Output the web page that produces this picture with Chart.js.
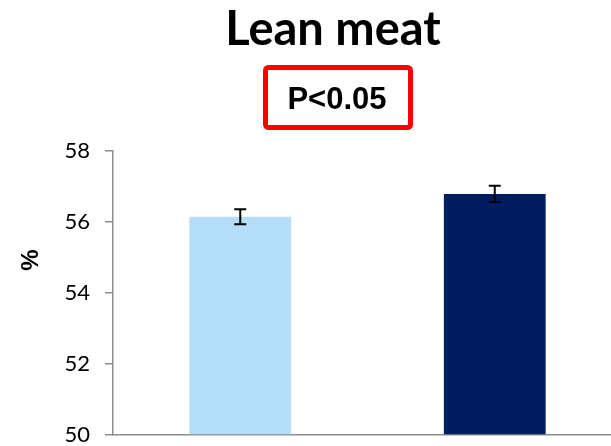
<!DOCTYPE html>
<html>
<head>
<meta charset="utf-8">
<script src="https://cdn.jsdelivr.net/npm/chart.js@4.4.1/dist/chart.umd.min.js"></script>
<style>
html,body{margin:0;padding:0;background:#fff;overflow:hidden;}
#wrap{position:relative;width:622px;height:446px;}
</style>
</head>
<body>
<div id="wrap"><canvas id="c"></canvas></div>
<script>
const categories = ["Control", "Treatment"];
const values = [56.15, 56.79];
const errors = [0.21, 0.23];
const barColors = ["#B3DEFA", "#001E5F"];
const yTicks = [50, 52, 54, 56, 58];
const titleText = "Lean meat";
const pText = "P<0.05";
const yLabel = "%";

const overlay = {
  id: 'overlay',
  afterDatasetsDraw(chart) {
    const ctx = chart.ctx;
    const x = chart.scales.x, y = chart.scales.y;
    ctx.save();
    ctx.strokeStyle = '#000';
    ctx.lineWidth = 2;
    values.forEach((v, i) => {
      const px = x.getPixelForValue(i);
      const top = y.getPixelForValue(v + errors[i]);
      const bot = y.getPixelForValue(v - errors[i]);
      ctx.beginPath();
      ctx.moveTo(px, top); ctx.lineTo(px, bot);
      ctx.moveTo(px - 6, top); ctx.lineTo(px + 6, top);
      ctx.moveTo(px - 6, bot); ctx.lineTo(px + 6, bot);
      ctx.stroke();
    });
    ctx.fillStyle = '#000';
    ctx.textAlign = 'center';
    ctx.textBaseline = 'alphabetic';
    ctx.font = 'bold 47px Lato';
    ctx.fillText(titleText, 333, 45);
    ctx.strokeStyle = '#FF0000';
    ctx.lineWidth = 5;
    ctx.beginPath();
    ctx.roundRect(265.5, 67.5, 145, 60, 3);
    ctx.stroke();
    ctx.font = 'bold 31px "Liberation Sans"';
    ctx.fillText(pText, 337, 109);
    ctx.translate(38, 260);
    ctx.rotate(-Math.PI / 2);
    ctx.font = 'bold 24px "Liberation Sans"';
    ctx.fillText(yLabel, 0, 0);
    ctx.restore();
  }
};

new Chart(document.getElementById('c'), {
  type: 'bar',
  data: {
    labels: categories,
    datasets: [{
      data: values,
      backgroundColor: barColors,
      borderWidth: 0,
      categoryPercentage: 1,
      barPercentage: 0.4,
      base: 50
    }]
  },
  options: {
    responsive: true,
    maintainAspectRatio: false,
    animation: false,
    layout: { padding: { top: 151, right: 0, left: 0, bottom: 0 } },
    plugins: { legend: { display: false }, tooltip: { enabled: false }, title: { display: false } },
    scales: {
      x: {
        grid: { display: false, drawTicks: false },
        border: { display: true, color: '#8C8C8C', width: 1.5 },
        ticks: { display: false, padding: 0 },
        afterFit(s) { s.height = 11; s.paddingBottom = 0; s.paddingTop = 0; }
      },
      y: {
        min: 50, max: 58,
        afterBuildTicks(s) { s.ticks = yTicks.map(v => ({ value: v })); },
        grid: { drawOnChartArea: false, drawTicks: true, tickLength: 8, color: '#8C8C8C', lineWidth: 1.5 },
        border: { display: true, color: '#8C8C8C', width: 1.5 },
        ticks: { color: '#000', font: { family: 'Lato', size: 22 }, padding: 15 },
        afterFit(s) { s.width = 113; s.paddingTop = 0; s.paddingBottom = 0; }
      }
    }
  },
  plugins: [overlay]
});
</script>
</body>
</html>
